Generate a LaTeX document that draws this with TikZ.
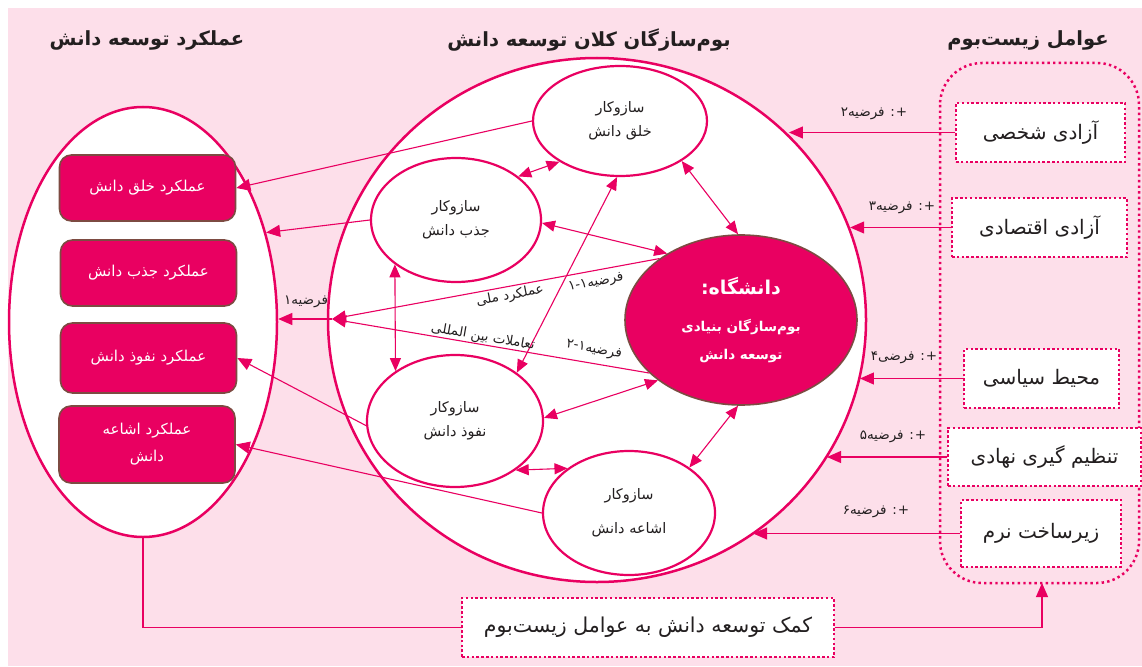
\documentclass[tikz,border=0pt]{standalone}
\usepackage{fontspec}
\usetikzlibrary{arrows.meta,shapes.geometric}
\TeXXeTstate=1
\newfontfamily\fa[Script=Arabic]{DejaVu Sans}
\newcommand{\rl}[1]{\beginR#1\endR}
\definecolor{mag}{RGB}{233,0,97}
\definecolor{bgpink}{RGB}{253,223,234}
\definecolor{boxbrown}{RGB}{125,75,66}
\definecolor{inkc}{RGB}{35,31,32}
\tikzset{
  heading/.style={text=inkc, inner sep=0pt, font=\fa\bfseries\fontsize{19.5}{24}\selectfont},
  ring/.style={ellipse, draw=mag, fill=white, line width=2.5pt, inner sep=0pt},
  perf/.style={draw=boxbrown, fill=mag, line width=1.6pt, rounded corners=12pt,
    minimum width=176pt, inner sep=0pt, text=white, align=center,
    font=\fa\fontsize{15}{27}\selectfont},
  mech/.style={ellipse, draw=mag, fill=white, line width=2.2pt, inner sep=0pt,
    text=inkc, align=center, font=\fa\fontsize{14.5}{24}\selectfont},
  core/.style={ellipse, draw=boxbrown, fill=mag, line width=1.6pt, inner sep=0pt,
    text=white, align=center, font=\fa\bfseries\fontsize{13.5}{28}\selectfont},
  dots/.style={draw=mag, line width=2.5pt, dash pattern=on 2.5pt off 2.3pt},
  factor/.style={dots, fill=white, inner sep=0pt, text=inkc,
    font=\fa\fontsize{20}{22}\selectfont},
  lbl/.style={text=inkc, inner sep=0pt, font=\fa\fontsize{13.5}{15}\selectfont},
  link/.style={draw=mag, line width=1.1pt},
  arr/.style={link, -{Triangle[length=14pt,width=12pt]}},
  darr/.style={link, {Triangle[length=13pt,width=11pt]}-{Triangle[length=13pt,width=11pt]}},
}
\begin{document}
\begin{tikzpicture}[x=1pt,y=-1pt]
\useasboundingbox (0,0) rectangle (1142,666);
\fill[bgpink] (8,8) rectangle (1142,666);

% column headings
\node[heading] (t1) at (147,40) {\rl{عملکرد توسعه دانش}};
\node[heading] (t2) at (589,40) {\rl{بوم^^^^200cسازگان کلان توسعه دانش}};
\node[heading] (t3) at (1028,40) {\rl{عوامل زیست^^^^200cبوم}};

% performance ellipse and ecosystem circle
\node[ring, minimum width=268pt, minimum height=430pt] (L) at (143,322) {};
\node[ring, minimum width=538pt, minimum height=524pt] (B) at (597,320) {};

% performance boxes
\node[perf, minimum height=66pt] (p1) at (147.5,188) {\rl{عملکرد خلق دانش}};
\node[perf, minimum height=66pt] (p2) at (148.5,273) {\rl{عملکرد جذب دانش}};
\node[perf, minimum height=70pt] (p3) at (148.5,358) {\rl{عملکرد نفوذ دانش}};
\node[perf, minimum height=77pt] (p4) at (147,444.5) {\rl{عملکرد اشاعه}\\\rl{دانش}};

% mechanisms
\node[mech, minimum width=174pt, minimum height=110pt] (K) at (620,121) {\rl{سازوکار}\\\rl{خلق دانش}};
\node[mech, minimum width=170pt, minimum height=124pt] (Z) at (456,220) {\rl{سازوکار}\\\rl{جذب دانش}};
\node[mech, minimum width=176pt, minimum height=132pt] (N) at (455,421) {\rl{سازوکار}\\\rl{نفوذ دانش}};
\node[mech, minimum width=172pt, minimum height=124pt, font=\fa\fontsize{14.5}{34}\selectfont] (E) at (629,513) {\rl{سازوکار}\\\rl{اشاعه دانش}};

% university core
\node[core, minimum width=232pt, minimum height=170pt] (U) at (741,320)
  {{\fontsize{19}{28}\selectfont\rl{دانشگاه:}}\\[9pt]
   \rl{بوم^^^^200cسازگان بنیادی}\\
   \rl{توسعه دانش}};

% ecosystem factors
\draw[draw=mag, line width=2.5pt, dash pattern=on 2.4pt off 3.2pt, rounded corners=42pt]
  (940,63) rectangle (1139,583);
\coordinate (Fs) at (1042,583);
\node[factor, minimum width=169pt, minimum height=59pt] (f1) at (1040.5,132.5) {\rl{آزادی شخصی}};
\node[factor, minimum width=175pt, minimum height=59pt] (f2) at (1039.5,227.5) {\rl{آزادی اقتصادی}};
\node[factor, minimum width=155pt, minimum height=59pt] (f3) at (1041.5,378.5) {\rl{محیط سیاسی}};
\node[factor, minimum width=193pt, minimum height=58pt] (f4) at (1044.5,457) {\rl{تنظیم گیری نهادی}};
\node[factor, minimum width=160pt, minimum height=67pt] (f5) at (1041,533.5) {\rl{زیرساخت نرم}};

% feedback box
\node[factor, minimum width=372pt, minimum height=59pt, font=\fa\fontsize{20.5}{22}\selectfont] (H) at (648,627.5) {\rl{کمک توسعه دانش به عوامل زیست^^^^200cبوم}};

% factor hypotheses
\draw[arr] (f1.west) -- (B.44.8 |- f1.west);
\draw[arr] (f2.west) -- (B.20.2 |- f2.west);
\draw[arr] (f3.west) -- (B.347.4 |- f3.west);
\draw[arr] (f4.west) -- (B.329.1 |- f4.west);
\draw[arr] (f5.west) -- (B.306.1 |- f5.west);
\node[lbl] (h2) at (874,114) {\rl{+\kern1pt: فرضیه۲}};
\node[lbl] (h3) at (902,208) {\rl{+\kern1pt: فرضیه۳}};
\node[lbl] (h4) at (904,358) {\rl{+\kern1pt: فرضی۴}};
\node[lbl] (h5) at (893,437) {\rl{+\kern1pt: فرضیه۵}};
\node[lbl] (h6) at (876,512) {\rl{+\kern1pt: فرضیه۶}};

% mechanisms to performance
\draw[arr] (K.west) -- (p1.east);
\draw[arr] (Z.west) -- (L.36.9);
\draw[arr] (N.183) -- (p3.east);
\draw[arr] (E.west) -- (p4.east);

% links among mechanisms and the university
\draw[darr] (K.214.3) -- (Z.35.4);
\draw[darr] (K.327) -- (U.92);
\draw[darr] (K.267) -- (N.38.3);
\draw[darr] (Z.358.7) -- (U.138);
\draw[darr] (Z.216.2) -- (N.140.3);
\draw[darr] (N.2) -- (U.216);
\draw[darr] (N.321.5) -- (E.144);
\draw[darr] (E.37) -- (U.268);

% national and international performance
\coordinate (J) at (332,319);
\draw[arr] (U.143) -- (J);
\draw[arr] (U.210) -- (J);
\draw[arr] (J) -- (L.east |- J);
\node[lbl] (h1) at (306,302) {\rl{فرضیه۱}};
\node[lbl, rotate=11] (m1) at (510,296) {\rl{عملکرد ملی}};
\node[lbl, rotate=11] (m2) at (596,283) {\rl{فرضیه۱-۱}};
\node[lbl, rotate=-10] (i1) at (483,337) {\rl{تعاملات بین المللی}};
\node[lbl, rotate=-10] (i2) at (594,350) {\rl{فرضیه۱-۲}};

% feedback loop
\draw[link] (L.south) |- (H.west);
\draw[arr] (H.east) -| (Fs);
\end{tikzpicture}
\end{document}
